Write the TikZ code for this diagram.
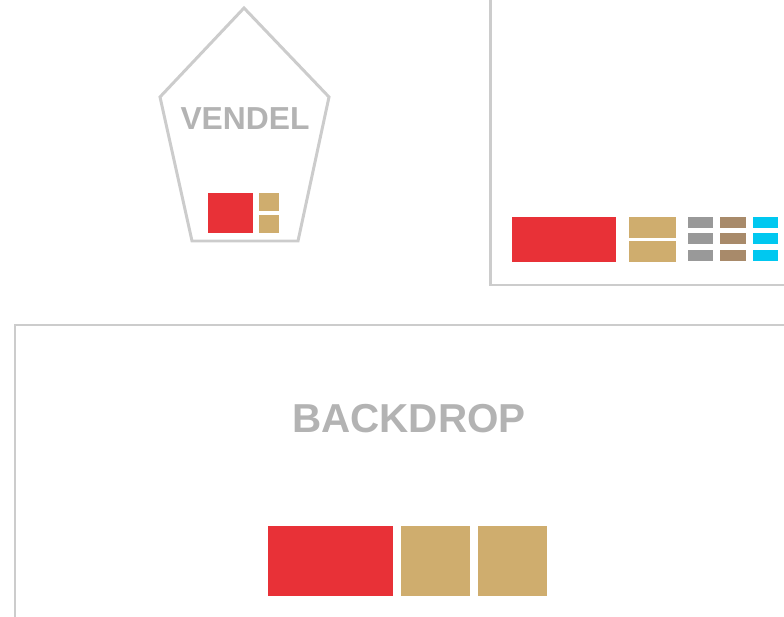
\documentclass[tikz,border=0pt]{standalone}
\usepackage{fontspec}
\setmainfont{Liberation Sans}
\definecolor{wallgray}{HTML}{CCCCCC}
\definecolor{labelgray}{HTML}{B3B3B3}
\definecolor{flagred}{HTML}{E83137}
\definecolor{flagtan}{HTML}{CFAD6E}
\definecolor{flaggray}{HTML}{999999}
\definecolor{flagbrown}{HTML}{A88A6A}
\definecolor{flagcyan}{HTML}{00C8F0}
\tikzset{
  wall/.style={draw=wallgray, line width=1.7pt},
  zonelabel/.style={text=labelgray, font=\bfseries}
}
\begin{document}
\begin{tikzpicture}[x=0.02cm, y=-0.02cm]
    \useasboundingbox (0, 0) rectangle (784, 617);

    % Vendel (pentagon)
    \draw[wall, line join=miter] (244, 8) -- (329, 97) -- (298, 241) -- (192, 241) -- (160, 97) -- cycle;
    \node[zonelabel, font=\bfseries\fontsize{18.1}{20}\selectfont] (vendel) at (245, 119) {VENDEL};
    \fill[flagred] (208, 193) rectangle (253, 233);
    \fill[flagtan] (259, 193) rectangle (279, 211);
    \fill[flagtan] (259, 215) rectangle (279, 233);

    % Right panel
    \draw[wall] (490, -5) -- (490, 285) -- (790, 285);
    \fill[flagred] (512, 217) rectangle (616, 262);
    \fill[flagtan] (629, 217) rectangle (676, 238);
    \fill[flagtan] (629, 241) rectangle (676, 262);
    \foreach \y in {217, 233, 250} {
        \fill[flaggray] (688, \y) rectangle (713, \y+11);
        \fill[flagbrown] (720, \y) rectangle (746, \y+11);
        \fill[flagcyan] (753, \y) rectangle (778, \y+11);
    }

    % Backdrop
    \draw[wall] (15, 625) -- (15, 325) -- (790, 325);
    \node[zonelabel, font=\bfseries\fontsize{23}{26}\selectfont] (backdrop) at (409, 419) {BACKDROP};
    \fill[flagred] (268, 526) rectangle (393, 596);
    \fill[flagtan] (401, 526) rectangle (470, 596);
    \fill[flagtan] (478, 526) rectangle (547, 596);
\end{tikzpicture}
\end{document}
